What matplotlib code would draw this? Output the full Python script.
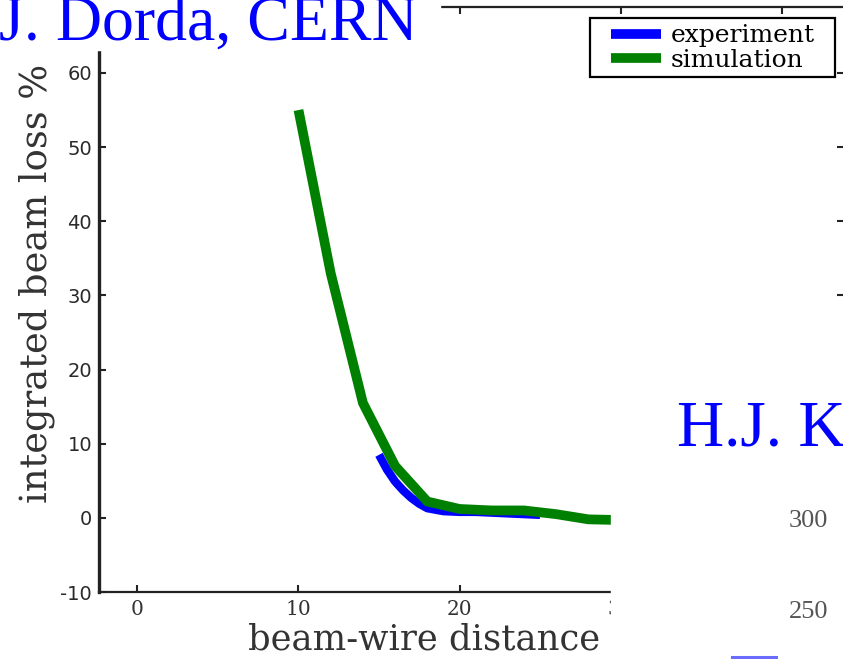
import matplotlib
matplotlib.use("Agg")
import matplotlib.pyplot as plt
from matplotlib.patches import Rectangle
from matplotlib.lines import Line2D

plt.rcParams["axes.unicode_minus"] = False

# data
sim_x = [10, 12, 14, 16, 18, 20, 22, 24, 26, 28, 30]
sim_y = [55, 33, 15.5, 7, 2.2, 1.2, 1.0, 1.0, 0.5, -0.2, -0.3]

exp_x = [15, 15.5, 16, 16.5, 17, 17.5, 18, 19, 20, 21, 22, 23, 24, 25]
exp_y = [8.5, 6.5, 4.9, 3.7, 2.7, 1.9, 1.3, 0.9, 0.8, 0.8, 0.7, 0.6, 0.5, 0.4]

x_ticks = [0, 10, 20, 30, 40]
x_labels = ["0", "10", "20", "30", ""]  # 40 sits under the pasted picture
y_ticks = [-10, 0, 10, 20, 30, 40, 50, 60]

W, H = 843, 659


def fx(px):
    return px / W


def fy(py):
    return 1 - py / H


fig = plt.figure(figsize=(8.43, 6.59), dpi=100)
ax = fig.add_axes([fx(99), fy(592), (844 - 99) / W, (592 - 7) / H])

ax.plot(exp_x, exp_y, color="#0000ff", lw=6, solid_capstyle="butt", label="experiment")
ax.plot(sim_x, sim_y, color="#008000", lw=7, solid_capstyle="butt", label="simulation")

ax.set_xlim(-2.39, 43.88)
ax.set_ylim(-10.0, 68.9)
ax.set_xticks(x_ticks, x_labels)
ax.set_yticks(y_ticks)
ax.tick_params(direction="in", length=5, width=1.5, color="#222222",
               top=True, right=True)
ax.tick_params(axis="x", pad=6, labelsize=14.5, labelcolor="#333333")
ax.tick_params(axis="y", pad=5, labelsize=14, labelcolor="#2a2a2a")
for lab in ax.get_xticklabels():
    lab.set_family("DejaVu Serif")
for lab in ax.get_yticklabels():
    lab.set_family("DejaVu Sans")
for s in ax.spines.values():
    s.set_linewidth(1.6)
    s.set_color("#222222")
ax.spines["left"].set_linewidth(2.4)

fig.text(fx(37), fy(283), "integrated beam loss %", rotation=90,
         ha="center", va="center", family="DejaVu Serif", fontsize=26.5,
         color="#333333")
fig.text(fx(424), fy(640), "beam-wire distance", ha="center", va="center",
         family="DejaVu Serif", fontsize=25.5, color="#333333")

# legend: contents from matplotlib, frame drawn to the reference size
leg = ax.legend(loc="center left", bbox_to_anchor=(fx(611), fy(48)),
                bbox_transform=fig.transFigure, frameon=False,
                borderaxespad=0, borderpad=0,
                prop={"family": "DejaVu Serif", "size": 18},
                handlelength=2.0, handletextpad=0.4, labelspacing=0.05)
for h in leg.get_lines():
    h.set_linewidth(7)
fig.patches.append(Rectangle((fx(590), fy(77)), (835 - 590) / W, (77 - 18) / H,
                             transform=fig.transFigure, facecolor="none",
                             edgecolor="black", lw=1.6, zorder=5))

# slide pieces lying over the chart
fig.patches.append(Rectangle((0, fy(50)), fx(440), 50 / H,
                             transform=fig.transFigure, color="white", zorder=10))
fig.patches.append(Rectangle((fx(611), 0), 1 - fx(611), (H - 330) / H,
                             transform=fig.transFigure, color="white", zorder=10))
fig.text(fx(418), fy(40), "J. Dorda, CERN", ha="right", va="baseline",
         family="Liberation Serif", fontsize=46, color="#0000ff", zorder=11)
fig.text(fx(677), fy(446), "H.J. K", ha="left", va="baseline",
         family="Liberation Serif", fontsize=47, color="#0000ff", zorder=11)
fig.text(fx(789), fy(521), "300", ha="left", va="center",
         family="Liberation Serif", fontsize=19, color="#555555", zorder=11)
fig.text(fx(789), fy(612), "250", ha="left", va="center",
         family="Liberation Serif", fontsize=19, color="#555555", zorder=11)
fig.lines.append(Line2D([fx(732), fx(776)], [fy(657), fy(657)],
                        transform=fig.transFigure, color="#6b6bff", lw=2.2,
                        zorder=11))

plt.savefig("out.png", dpi=100)
